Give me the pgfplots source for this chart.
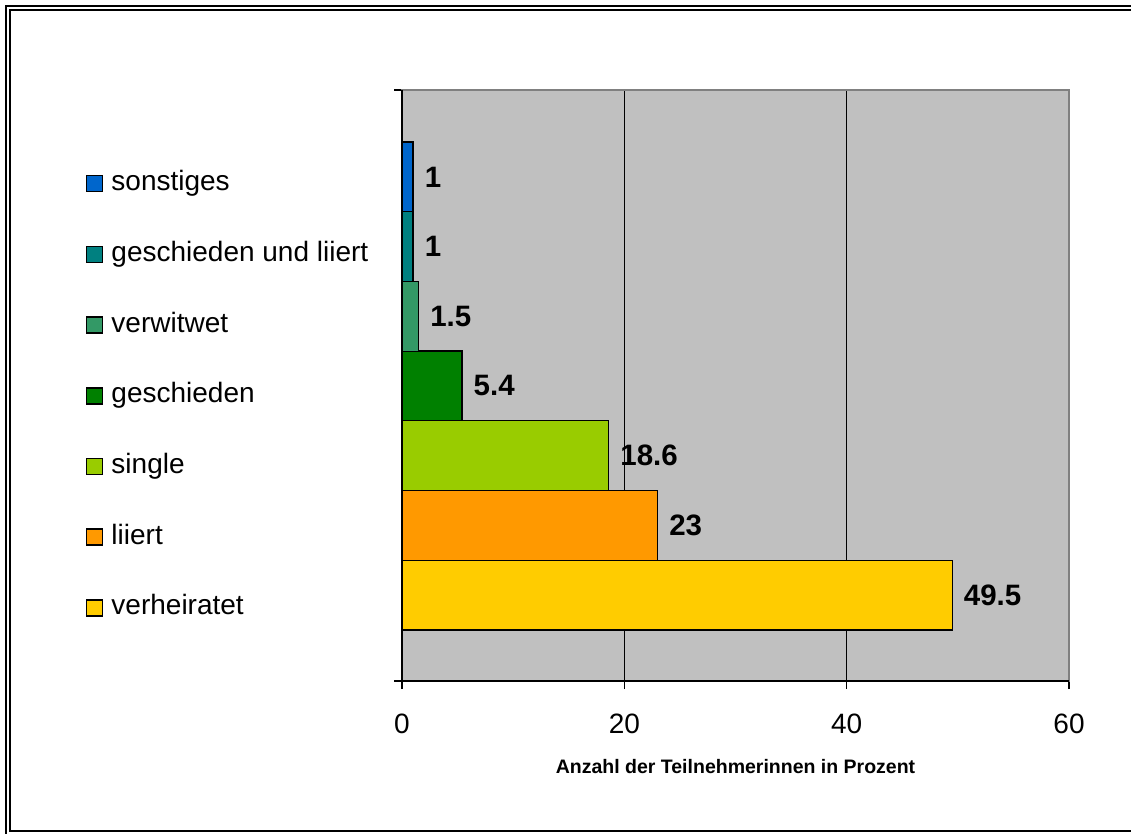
\documentclass[border=0pt]{standalone}
\usepackage{fontspec}
\setmainfont{Liberation Sans}
\usepackage{pgfplots}
\pgfplotsset{compat=1.18}
\definecolor{plotbg}{HTML}{C0C0C0}
\definecolor{framegray}{HTML}{808080}
\definecolor{cSon}{HTML}{0066CC}
\definecolor{cGul}{HTML}{008080}
\definecolor{cVerw}{HTML}{339966}
\definecolor{cGesch}{HTML}{008000}
\definecolor{cSingle}{HTML}{99CC00}
\definecolor{cLiiert}{HTML}{FF9900}
\definecolor{cVerh}{HTML}{FFCC00}
\begin{document}
\begin{tikzpicture}[x=1pt,y=1pt]
\useasboundingbox (0,0) rectangle (1131,833);
\draw[line width=2pt] (6,-5) -- (6,827) -- (1140,827);
\draw[line width=2pt] (1140,823) -- (10,823) -- (10,2) -- (1140,2);
\begin{axis}[
  at={(402pt,152pt)}, anchor=south west,
  width=667pt, height=591pt, scale only axis,
  xbar, bar width=69.7pt, bar shift=0pt,
  xmin=0, xmax=60, ymin=-1.234, ymax=7.248,
  xtick={0,20,40,60}, ytick={-1.234,7.248}, yticklabels={},
  tick pos=left, tick align=outside,
  major tick length=8pt,
  tick style={black, line width=1.5pt},
  xmajorgrids, major grid style={black, line width=1.3pt},
  axis background/.style={fill=plotbg},
  axis line style={draw=framegray, line width=2pt},
  /pgf/number format/assume math mode=true,
  ticklabel style={font=\fontsize{28}{33}\selectfont},
  xticklabel style={yshift=-21pt},
  xlabel={Anzahl der Teilnehmerinnen in Prozent},
  xlabel style={font=\bfseries\fontsize{19.5}{23}\selectfont, at={(axis description cs:0.5,-0.1455)}, anchor=center},
  nodes near coords,
  nodes near coords style={font=\bfseries\fontsize{29.5}{35}\selectfont, anchor=west, inner sep=0pt, xshift=11pt, black},
  clip=false,
  reverse legend,
  legend image code/.code={\draw[#1, draw=black, line width=1.5pt] (0pt,-8pt) rectangle (16pt,8pt);},
  legend cell align=left,
  legend style={draw=none, fill=none, inner sep=0pt, outer sep=0pt,
    at={(-0.4738,0.8635)}, anchor=north west,
    row sep=44.7pt, column sep=8pt,
    font=\fontsize{28}{33}\selectfont,
    nodes={inner sep=0pt, text height=20pt, text depth=6pt}},
  every axis plot/.append style={draw=black, line width=1.3pt},
]
\addplot[fill=cVerh] coordinates {(49.5,0)}; \addlegendentry{verheiratet}
\addplot[fill=cLiiert] coordinates {(23,1)}; \addlegendentry{liiert}
\addplot[fill=cSingle] coordinates {(18.6,2)}; \addlegendentry{single}
\addplot[fill=cGesch] coordinates {(5.4,3)}; \addlegendentry{geschieden}
\addplot[fill=cVerw] coordinates {(1.5,4)}; \addlegendentry{verwitwet}
\addplot[fill=cGul] coordinates {(1,5)}; \addlegendentry{geschieden und liiert}
\addplot[fill=cSon] coordinates {(1,6)}; \addlegendentry{sonstiges}
\draw[black, line width=1.5pt] (rel axis cs:0,1) -- (rel axis cs:0,0) -- (rel axis cs:1,0);
\end{axis}
\end{tikzpicture}
\end{document}
